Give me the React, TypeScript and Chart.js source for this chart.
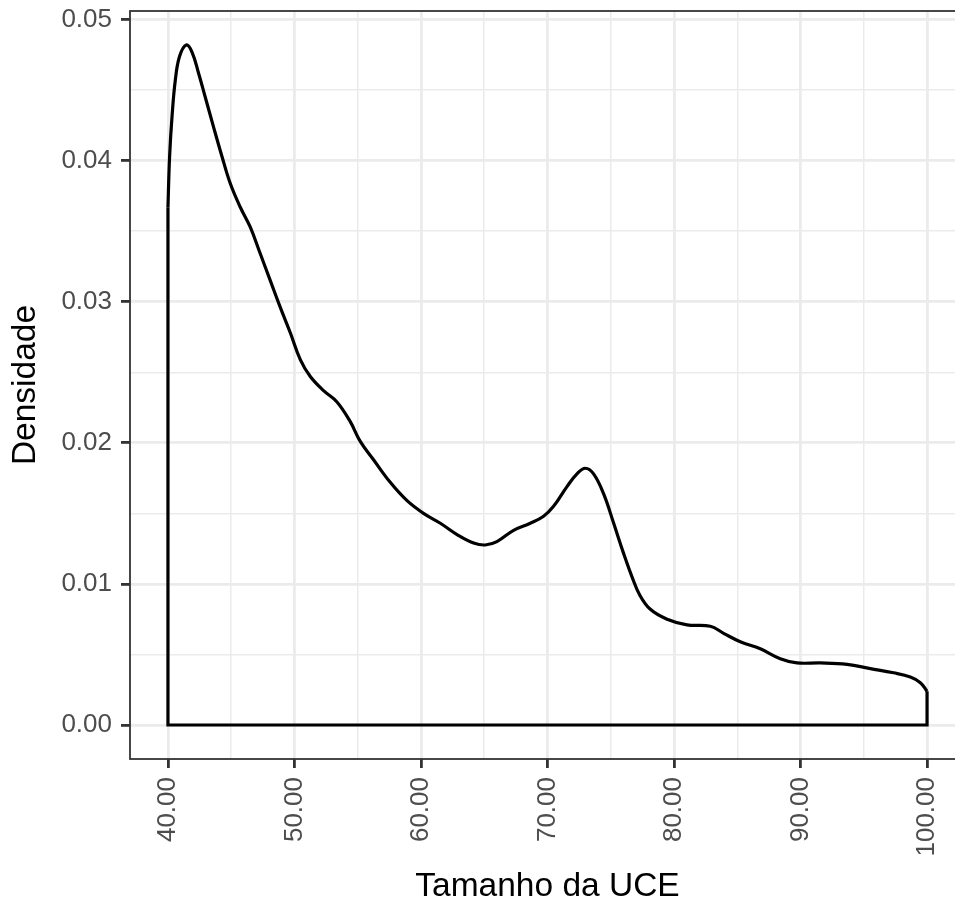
import React, { useEffect, useRef } from "react";
import { Chart, registerables } from "chart.js";

Chart.register(...registerables);

// Density curve (Tamanho da UCE vs Densidade)
const sizeValues = [
  40.0, 40.13, 40.32, 40.58, 40.92, 41.45, 41.9, 42.42, 42.95, 43.6, 44.27, 44.92,
  45.72, 46.5, 47.3, 48.09, 48.88, 49.67, 50.46, 51.25, 52.3, 53.36, 54.41, 55.2,
  56.25, 57.57, 58.9, 60.2, 61.53, 62.85, 64.16, 65.08, 66.0, 67.32, 68.64, 69.69,
  70.48, 71.54, 72.33, 72.99, 73.64, 74.43, 75.23, 76.0, 76.68, 77.3, 78.13, 79.45,
  81.03, 82.87, 83.92, 85.24, 86.82, 88.4, 89.72, 91.57, 93.68, 95.52, 97.36, 98.68,
  99.47, 100.0,
];
const densityValues = [
  0.0367, 0.0403, 0.0431, 0.0457, 0.0474, 0.0482, 0.0477, 0.0462, 0.0445, 0.0424, 0.0403, 0.0384,
  0.0367, 0.0353, 0.0334, 0.0315, 0.0296, 0.0278, 0.0259, 0.0247, 0.0237, 0.0229, 0.0215, 0.0201,
  0.0188, 0.0172, 0.0159, 0.015, 0.0143, 0.0135, 0.0129, 0.01276, 0.013, 0.0138, 0.0143, 0.0148,
  0.0155, 0.0169, 0.0178, 0.0182, 0.0178, 0.0164, 0.0143, 0.0122, 0.0105, 0.0092, 0.0082, 0.0075,
  0.0071, 0.0070, 0.0065, 0.0059, 0.0054, 0.0047, 0.0044, 0.0044, 0.0043, 0.004, 0.0037, 0.0034,
  0.003, 0.0024,
];

const xMajorTicks = [40, 50, 60, 70, 80, 90, 100];
const xMinorTicks = [45, 55, 65, 75, 85, 95];
const xTickLabels = ["40.00", "50.00", "60.00", "70.00", "80.00", "90.00", "100.00"];
const yMajorTicks = [0, 0.01, 0.02, 0.03, 0.04, 0.05];
const yMinorTicks = [0.005, 0.015, 0.025, 0.035, 0.045];
const yTickLabels = ["0.00", "0.01", "0.02", "0.03", "0.04", "0.05"];

const xAxisTitle = "Tamanho da UCE";
const yAxisTitle = "Densidade";

const FONT = "'Liberation Sans', Arial, Helvetica, sans-serif";
const GRID_MAJOR = "#EBEBEB";
const TICK_COLOR = "#333333";

const near = (a: number, b: number) => Math.abs(a - b) < 1e-9;
const majorIndex = (list: number[], v: number) => list.findIndex((m) => near(m, v));

export default function App() {
  const canvasRef = useRef<HTMLCanvasElement | null>(null);

  useEffect(() => {
    document.body.style.margin = "0";
    const canvas = canvasRef.current;
    if (!canvas) return;

    const curve = sizeValues.map((x, i) => ({ x, y: densityValues[i] }));
    const first = curve[0];
    const last = curve[curve.length - 1];
    const closing = [
      { x: first.x, y: first.y },
      { x: first.x, y: 0 },
      { x: last.x, y: 0 },
      { x: last.x, y: last.y },
    ];

    const xRange = xMajorTicks[xMajorTicks.length - 1] - xMajorTicks[0];
    const xMin = xMajorTicks[0] - 0.05 * xRange;
    const xMax = xMajorTicks[xMajorTicks.length - 1] + 0.05 * xRange;
    const yTop = Math.max(...densityValues);
    const yMin = -0.05 * yTop;
    const yMax = yTop * 1.05;

    const panelBorder = {
      id: "panelBorder",
      beforeDatasetsDraw(chart: any) {
        const { ctx, chartArea } = chart;
        ctx.save();
        ctx.strokeStyle = TICK_COLOR;
        ctx.lineWidth = 1.8;
        ctx.strokeRect(chartArea.left, chartArea.top, chartArea.right - chartArea.left, chartArea.bottom - chartArea.top);
        ctx.restore();
      },
    };

    const chart = new Chart(canvas, {
      type: "scatter",
      data: {
        datasets: [
          {
            data: curve,
            showLine: true,
            borderColor: "#000000",
            borderWidth: 3.2,
            pointRadius: 0,
            tension: 0.4,
            fill: false,
          },
          {
            data: closing,
            showLine: true,
            borderColor: "#000000",
            borderWidth: 3.2,
            pointRadius: 0,
            tension: 0,
            fill: false,
          },
        ],
      },
      options: {
        animation: false,
        responsive: false,
        devicePixelRatio: 1,
        layout: { padding: { left: 0, top: 11, right: 10, bottom: 0 } },
        plugins: { legend: { display: false }, tooltip: { enabled: false } },
        scales: {
          x: {
            type: "linear",
            min: xMin,
            max: xMax,
            afterBuildTicks: (scale: any) => {
              scale.ticks = [...xMajorTicks, ...xMinorTicks].sort((a, b) => a - b).map((v) => ({ value: v }));
            },
            afterFit: (scale: any) => {
              scale.height = 152;
              scale.paddingLeft = 0;
              scale.paddingRight = 0;
              scale.paddingTop = 0;
              scale.paddingBottom = 0;
            },
            border: { display: false },
            grid: {
              color: GRID_MAJOR,
              lineWidth: (c: any) => (majorIndex(xMajorTicks, c.tick?.value) >= 0 ? 2.8 : 1.5),
              tickColor: (c: any) => (majorIndex(xMajorTicks, c.tick?.value) >= 0 ? TICK_COLOR : "rgba(0,0,0,0)"),
              tickWidth: 2.8,
              tickLength: 9,
            },
            ticks: {
              autoSkip: false,
              minRotation: 90,
              maxRotation: 90,
              padding: 9,
              color: "#4D4D4D",
              font: { family: FONT, size: 26, lineHeight: 0.65 },
              callback: (v: any) => {
                const i = majorIndex(xMajorTicks, Number(v));
                return i >= 0 ? xTickLabels[i] : "";
              },
            },
            title: {
              display: true,
              text: xAxisTitle,
              color: "#000000",
              font: { family: FONT, size: 33.5, lineHeight: 1.2 },
              padding: { top: 0, bottom: 4 },
            },
          },
          y: {
            type: "linear",
            min: yMin,
            max: yMax,
            afterBuildTicks: (scale: any) => {
              scale.ticks = [...yMajorTicks, ...yMinorTicks].sort((a, b) => a - b).map((v) => ({ value: v }));
            },
            afterFit: (scale: any) => {
              scale.width = 130;
              scale.paddingLeft = 0;
              scale.paddingRight = 0;
              scale.paddingTop = 0;
              scale.paddingBottom = 0;
            },
            border: { display: false },
            grid: {
              color: GRID_MAJOR,
              lineWidth: (c: any) => (majorIndex(yMajorTicks, c.tick?.value) >= 0 ? 2.8 : 1.5),
              tickColor: (c: any) => (majorIndex(yMajorTicks, c.tick?.value) >= 0 ? TICK_COLOR : "rgba(0,0,0,0)"),
              tickWidth: 2.8,
              tickLength: 9,
            },
            ticks: {
              autoSkip: false,
              padding: 9,
              color: "#4D4D4D",
              font: { family: FONT, size: 26 },
              callback: (v: any) => {
                const i = majorIndex(yMajorTicks, Number(v));
                return i >= 0 ? yTickLabels[i] : "";
              },
            },
            title: {
              display: true,
              text: yAxisTitle,
              color: "#000000",
              font: { family: FONT, size: 33.5, lineHeight: 1.2 },
              padding: { top: 6, bottom: 0 },
            },
          },
        },
      },
      plugins: [panelBorder],
    } as any);

    return () => chart.destroy();
  }, []);

  return (
    <div style={{ width: 955, height: 911, overflow: "hidden", position: "relative", background: "#ffffff" }}>
      <canvas ref={canvasRef} width={975} height={911} style={{ display: "block" }} />
    </div>
  );
}
